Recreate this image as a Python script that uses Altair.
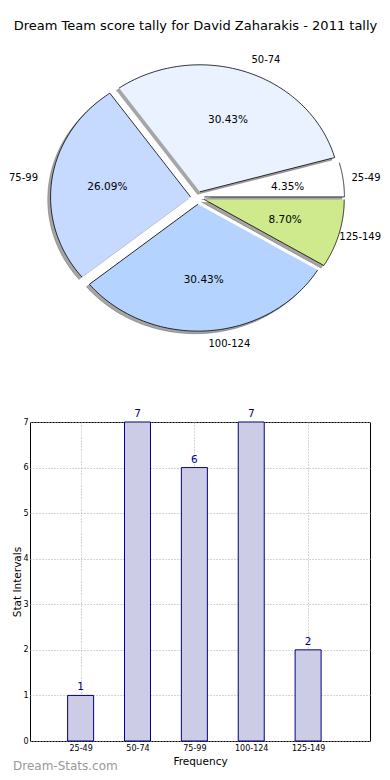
import altair as alt
import pandas as pd
import json

# ---------------- data ----------------
categories = ["25-49", "50-74", "75-99", "100-124", "125-149"]
counts = [1, 7, 6, 7, 2]
pie_colors = ["#ffffff", "#eaf2ff", "#c6d9ff", "#b4d4ff", "#cfea8c"]

title_text = "Dream Team score tally for David Zaharakis - 2011 tally"
x_title = "Frequency"
y_title = "Stat Intervals"
watermark = "Dream-Stats.com"

# ---------------- style / geometry ----------------
FONT = "DejaVu Sans"
EXPLODE = 0.05
LABEL_DIST = 1.1
PCT_DIST = 0.6
SHADOW_DX = -0.02
SHADOW_DY = -0.02
NPTS = 90

BAR_LEFT = 30         # page x of bar plot left (= pie panel left, aligned by layout)
WM_REL_X = -17        # watermark x relative to the bar plot's left edge
PAGE_RIGHT = 382
PIE_W, PIE_H = PAGE_RIGHT - BAR_LEFT, 320
PIE_TOP = 42.5        # page y of pie panel top
PX_X, PX_Y = 140.0, 127.0
CX_PAGE, CY_PAGE = 197.5, 197.3

pie_x_lo = -(CX_PAGE - BAR_LEFT) / PX_X
pie_x_hi = pie_x_lo + PIE_W / PX_X
pie_y_hi = (CY_PAGE - PIE_TOP) / PX_Y
pie_y_lo = pie_y_hi - PIE_H / PX_Y
CHAR_W = 6.1 / PX_X   # approx label char width in pie units

BAR_W, BAR_H = 370 - BAR_LEFT, 319
STEP = 58.6
FIRST_CENTER = 77
bar_x_lo = (BAR_LEFT - FIRST_CENTER) / STEP
bar_x_hi = bar_x_lo + BAR_W / STEP

df = pd.DataFrame({"cat": categories, "count": counts, "order": list(range(len(categories)))})

xs = alt.Scale(domain=[pie_x_lo, pie_x_hi], nice=False, zero=False)
ys = alt.Scale(domain=[pie_y_lo, pie_y_hi], nice=False, zero=False)

base = (
    alt.Chart(df)
    .transform_joinaggregate(total="sum(count)")
    .transform_window(cum="sum(count)", sort=[alt.SortField("order")], frame=[None, 0])
    .transform_calculate(
        a0="2*PI*(datum.cum - datum.count)/datum.total",
        a1="2*PI*datum.cum/datum.total",
    )
    .transform_calculate(am="(datum.a0 + datum.a1)/2")
    .transform_calculate(
        ox=f"{EXPLODE}*cos(datum.am)",
        oy=f"{EXPLODE}*sin(datum.am)",
        pct="format(datum.count/datum.total*100, '.2f') + '%'",
    )
)

poly = (
    base.transform_calculate(k=f"sequence(0, {NPTS + 2})")
    .transform_flatten(["k"])
    .transform_calculate(t=f"datum.a0 + (datum.a1 - datum.a0)*(datum.k - 1)/{NPTS}")
    .transform_calculate(
        px="datum.k == 0 ? datum.ox : datum.ox + cos(datum.t)",
        py="datum.k == 0 ? datum.oy : datum.oy + sin(datum.t)",
    )
)

shadow = poly.transform_calculate(
    sx=f"datum.px + ({SHADOW_DX})", sy=f"datum.py + ({SHADOW_DY})"
).mark_line(
    fill="#4d4d4d", stroke="#4d4d4d", fillOpacity=0.5, strokeOpacity=0.5, strokeWidth=0.8
).encode(
    x=alt.X("sx:Q", scale=xs, axis=None),
    y=alt.Y("sy:Q", scale=ys, axis=None),
    order="k:Q",
    detail="cat:N",
)

wedges = poly.mark_line(stroke="black", strokeWidth=0.8).encode(
    x=alt.X("px:Q", scale=xs, axis=None),
    y=alt.Y("py:Q", scale=ys, axis=None),
    order="k:Q",
    detail="cat:N",
    fill=alt.Fill("cat:N", scale=alt.Scale(domain=categories, range=pie_colors), legend=None),
)

lab = base.transform_calculate(
    lx=f"datum.ox + {LABEL_DIST}*cos(datum.am)",
    ly=f"datum.oy + {LABEL_DIST}*sin(datum.am)",
)
lab_right = lab.transform_filter("datum.lx > 0").transform_calculate(
    lxc=f"min(datum.lx, {pie_x_hi} - length(datum.cat)*{CHAR_W})"
).mark_text(
    align="left", baseline="middle", fontSize=10, color="black"
).encode(x=alt.X("lxc:Q", scale=xs, axis=None), y=alt.Y("ly:Q", scale=ys, axis=None), text="cat:N")
lab_left = lab.transform_filter("datum.lx <= 0").mark_text(
    align="right", baseline="middle", fontSize=10, color="black"
).encode(x=alt.X("lx:Q", scale=xs, axis=None), y=alt.Y("ly:Q", scale=ys, axis=None), text="cat:N")

pct = base.transform_calculate(
    qx=f"datum.ox + {PCT_DIST}*cos(datum.am)",
    qy=f"datum.oy + {PCT_DIST}*sin(datum.am)",
).mark_text(align="center", baseline="middle", fontSize=10.5, color="black").encode(
    x=alt.X("qx:Q", scale=xs, axis=None), y=alt.Y("qy:Q", scale=ys, axis=None), text="pct:N"
)

pie = alt.layer(shadow, wedges, lab_right, lab_left, pct).properties(
    width=PIE_W, height=PIE_H, view=alt.ViewBackground(strokeOpacity=0)
)

# ---------------- bar chart ----------------
label_expr = f"{json.dumps(categories)}[datum.value]"

bar_x = alt.X(
    "order:Q",
    scale=alt.Scale(domain=[bar_x_lo, bar_x_hi], nice=False, zero=False),
    axis=alt.Axis(
        values=list(range(len(categories))), labelExpr=label_expr, title=x_title,
        grid=True, gridDash=[1, 2], gridColor="#aaaaaa", ticks=False, domain=False,
        labelFontSize=8, labelPadding=3.5, titleFontSize=10.5, titlePadding=4,
        titleFontWeight="normal", labelColor="black", titleColor="black",
    ),
)
bar_y = alt.Y(
    "count:Q",
    scale=alt.Scale(domain=[0, 7], nice=False),
    axis=alt.Axis(
        values=list(range(8)), title=y_title, grid=True, gridDash=[1, 2], gridColor="#aaaaaa",
        ticks=False, domain=False, labelFontSize=8, labelPadding=2, titleFontSize=10.5,
        titlePadding=0, minExtent=0, titleFontWeight="normal", labelColor="black", titleColor="black",
    ),
)

bars = alt.Chart(df).mark_bar(size=26, fill="#ccccE6", stroke="#000080", strokeWidth=1).encode(
    x=bar_x, y=bar_y
)
bar_text = alt.Chart(df).mark_text(baseline="middle", dy=-8, fontSize=10.5, color="#000080").encode(
    x=alt.X("order:Q"), y=alt.Y("count:Q"), text="count:Q"
)
wm = alt.Chart(pd.DataFrame({"t": [watermark]})).mark_text(
    align="left", baseline="middle", fontSize=12, color="#999999"
).encode(x=alt.value(WM_REL_X), y=alt.value(765 - 421), text="t:N")

bar_chart = alt.layer(bars, bar_text, wm).properties(
    width=BAR_W, height=BAR_H, view=alt.ViewBackground(stroke="black", strokeWidth=1)
)

chart = alt.vconcat(pie, bar_chart, spacing=45).properties(
    title=alt.TitleParams(
        title_text, font=FONT, fontSize=13, fontWeight="normal", color="black",
        anchor="middle", offset=10, baseline="top",
    ),
    padding={"left": 0, "top": 12, "right": 0, "bottom": 0},
).configure_axis(labelFont=FONT, titleFont=FONT).configure_text(font=FONT).configure_title(font=FONT)

chart.save("out.html", embed_options={"renderer": "svg", "actions": False})
